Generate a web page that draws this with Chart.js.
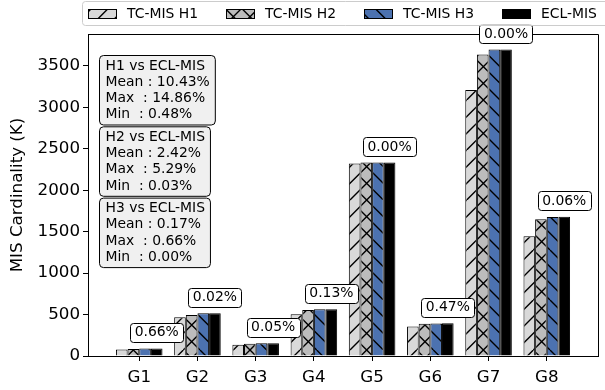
<!DOCTYPE html>
<html>
<head>
<meta charset="utf-8">
<script src="https://cdn.jsdelivr.net/npm/chart.js@4.4.1/dist/chart.umd.min.js"></script>
<style>
  html, body { margin: 0; padding: 0; background: #fff; }
  canvas { display: block; }
</style>
</head>
<body>
<canvas id="chart" width="605" height="390"></canvas>
<script>
// ---- data (MIS cardinality, thousands) ----
const categories = ['G1', 'G2', 'G3', 'G4', 'G5', 'G6', 'G7', 'G8'];
const tcMisH1 = [78, 467, 135, 505, 2324, 355, 3210, 1445];
const tcMisH2 = [85, 495, 147, 556, 2334, 388, 3640, 1650];
const tcMisH3 = [91.4, 514.9, 154.9, 564.3, 2335, 393.1, 3700, 1679];
const eclMis  = [92, 515, 155, 565, 2335, 395, 3700, 1680];
const gapLabels = ['0.66%', '0.02%', '0.05%', '0.13%', '0.00%', '0.47%', '0.00%', '0.06%'];
const yTicks = [0, 500, 1000, 1500, 2000, 2500, 3000, 3500];
const seriesNames = ['TC-MIS H1', 'TC-MIS H2', 'TC-MIS H3', 'ECL-MIS'];
const statBlocks = [
  ['H1 vs ECL-MIS', 'Mean : 10.43%', 'Max  : 14.86%', 'Min  : 0.48%'],
  ['H2 vs ECL-MIS', 'Mean : 2.42%',  'Max  : 5.29%',  'Min  : 0.03%'],
  ['H3 vs ECL-MIS', 'Mean : 0.17%',  'Max  : 0.66%',  'Min  : 0.00%']
];

const FAMILY = "'DejaVu Sans', 'Liberation Sans', sans-serif";
const FS = 13.9;      // annotation / legend text
const AXIS_FS = 16.7; // tick labels and axis title
const FONT = FS + 'px ' + FAMILY;

const canvas = document.getElementById('chart');
const ctx = canvas.getContext('2d');

// hatch fill: 6 lines per 100 px, like a '/' '\\' or 'x' hatch
function makeHatch(bg, dirs) {
  const p = 50, step = p / 3;
  const tile = document.createElement('canvas');
  tile.width = p; tile.height = p;
  const t = tile.getContext('2d');
  t.fillStyle = bg;
  t.fillRect(0, 0, p, p);
  if (dirs) {
    t.strokeStyle = '#000';
    t.lineWidth = 1.4;
    t.beginPath();
    for (let k = -3; k <= 3; k++) {
      const o = k * step;
      if (dirs.includes('/')) { t.moveTo(o, p); t.lineTo(o + p, 0); }
      if (dirs.includes('\\')) { t.moveTo(o, 0); t.lineTo(o + p, p); }
    }
    t.stroke();
  }
  return ctx.createPattern(tile, 'repeat');
}

const fills = [
  makeHatch('#d9d9d9', '/'),
  makeHatch('#bcbcbc', '/\\'),
  makeHatch('#4c72b0', '\\'),
  '#000000'
];
const seriesValues = [tcMisH1, tcMisH2, tcMisH3, eclMis];

function toPoints(vals) {
  return vals.map((v, i) => ({ x: i, y: v }));
}

function roundRectPath(c, x, y, w, h, r) {
  c.beginPath();
  c.moveTo(x + r, y);
  c.lineTo(x + w - r, y);
  c.arcTo(x + w, y, x + w, y + r, r);
  c.lineTo(x + w, y + h - r);
  c.arcTo(x + w, y + h, x + w - r, y + h, r);
  c.lineTo(x + r, y + h);
  c.arcTo(x, y + h, x, y + h - r, r);
  c.lineTo(x, y + r);
  c.arcTo(x, y, x + r, y, r);
  c.closePath();
}

const decorations = {
  id: 'decorations',
  afterDatasetsDraw(chart) {
    const c = chart.ctx;
    const a = chart.chartArea;
    c.save();

    // top and right frame lines
    c.strokeStyle = '#000';
    c.lineWidth = 1;
    c.beginPath();
    c.moveTo(a.left, Math.round(a.top) + 0.5);
    c.lineTo(Math.round(a.right) + 0.5, Math.round(a.top) + 0.5);
    c.lineTo(Math.round(a.right) + 0.5, a.bottom);
    c.stroke();

    c.font = FONT;
    c.textBaseline = 'middle';
    c.textAlign = 'left';

    // comparison summary boxes
    statBlocks.forEach((lines, b) => {
      const top = a.top + 21.5 + b * 71.3;
      const w = Math.max(...lines.map(s => c.measureText(s).width)) + 11.5;
      roundRectPath(c, 99.5, top, w, 69.5, 4);
      c.fillStyle = '#f0f0f0';
      c.fill();
      c.strokeStyle = '#000';
      c.lineWidth = 1;
      c.stroke();
      c.fillStyle = '#000';
      lines.forEach((s, j) => c.fillText(s, 105.5, top + 10.5 + j * 16.2));
    });

    // gap labels above the ECL-MIS bars
    const eclMeta = chart.getDatasetMeta(3);
    c.textAlign = 'center';
    gapLabels.forEach((txt, i) => {
      const bar = eclMeta.data[i];
      const cy = bar.y - 16;
      const w = c.measureText(txt).width + 9;
      roundRectPath(c, Math.round(bar.x - w / 2) + 0.5, Math.round(cy - 9.5) + 0.5, Math.round(w), 19, 3);
      c.fillStyle = '#fff';
      c.fill();
      c.strokeStyle = '#000';
      c.stroke();
      c.fillStyle = '#000';
      c.fillText(txt, bar.x, cy + 0.5);
    });

    // legend row
    c.textAlign = 'left';
    const fx = 82.5, fy = 1.5, fh = 24;
    roundRectPath(c, fx, fy, 540, fh, 3);
    c.fillStyle = 'rgba(255,255,255,0.8)';
    c.fill();
    c.strokeStyle = '#cccccc';
    c.stroke();
    let x = fx + 5.6;
    chart.data.datasets.forEach((ds) => {
      const sx = Math.round(x) + 0.5;
      c.fillStyle = ds.backgroundColor;
      c.fillRect(sx, 9.5, 28, 9);
      c.strokeStyle = '#000';
      c.strokeRect(sx, 9.5, 28, 9);
      c.fillStyle = '#000';
      c.fillText(ds.label, x + 28 + 11, 14);
      x += 28 + 11 + c.measureText(ds.label).width + 28;
    });

    c.restore();
  }
};

new Chart(ctx, {
  type: 'bar',
  data: {
    datasets: seriesNames.map((name, i) => ({
      label: name,
      data: toPoints(seriesValues[i]),
      backgroundColor: fills[i],
      borderColor: '#000',
      borderWidth: 1,
      categoryPercentage: 0.8,
      barPercentage: 1.0
    }))
  },
  options: {
    responsive: false,
    animation: false,
    devicePixelRatio: 1,
    layout: { padding: { top: 34, right: 7, left: 0, bottom: 0 } },
    plugins: { legend: { display: false }, tooltip: { enabled: false } },
    scales: {
      x: {
        type: 'linear',
        min: -0.88,
        max: 7.88,
        offset: false,
        grid: { display: true, offset: false, drawOnChartArea: false, color: '#000', tickLength: 5, tickWidth: 1 },
        border: { display: true, color: '#000', width: 1 },
        afterBuildTicks: s => { s.ticks = categories.map((_, i) => ({ value: i })); },
        afterFit: s => { s.height = 34; },
        ticks: {
          autoSkip: false,
          maxRotation: 0,
          padding: 7,
          color: '#000',
          font: { family: FAMILY, size: AXIS_FS },
          callback: v => categories[v]
        }
      },
      y: {
        min: 0,
        max: 3886,
        grid: { display: true, drawOnChartArea: false, color: '#000', tickLength: 5, tickWidth: 1 },
        border: { display: true, color: '#000', width: 1 },
        afterBuildTicks: s => { s.ticks = yTicks.map(v => ({ value: v })); },
        afterFit: s => { s.width = 88; },
        ticks: {
          padding: 3,
          color: '#000',
          font: { family: FAMILY, size: AXIS_FS },
          callback: v => String(v)
        },
        title: {
          display: true,
          text: 'MIS Cardinality (K)',
          color: '#000',
          font: { family: FAMILY, size: AXIS_FS },
          padding: { top: 8, bottom: 0 }
        }
      }
    }
  },
  plugins: [decorations]
});
</script>
</body>
</html>
